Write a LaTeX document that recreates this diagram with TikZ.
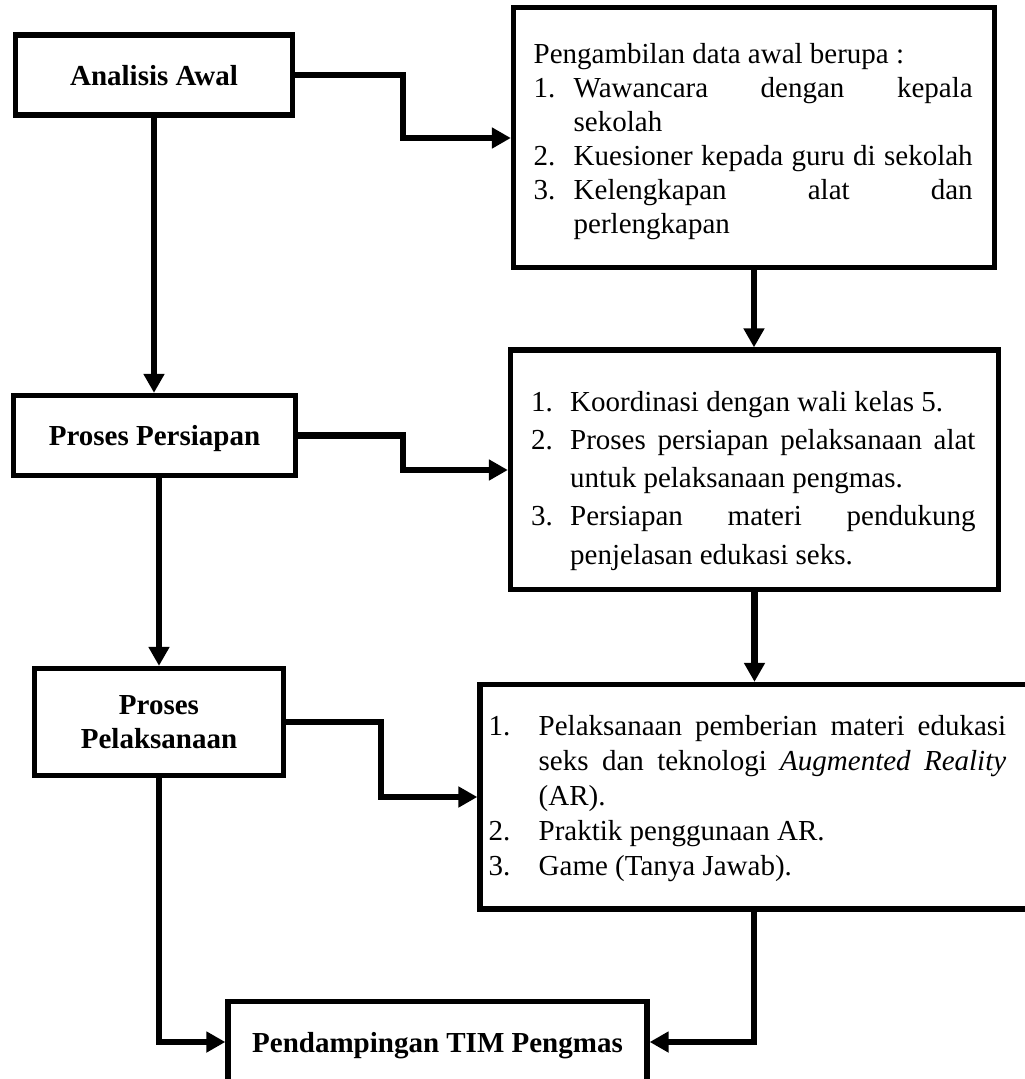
\documentclass[tikz,border=0pt]{standalone}
\usepackage{fontspec}
\setmainfont{Liberation Serif}
\usetikzlibrary{arrows.meta}
\begin{document}
\begin{tikzpicture}[x=1pt,y=-1pt,
  box/.style={draw=black, line width=5.3pt, rectangle, inner sep=0pt, fill=white},
  lbl/.style={font=\bfseries\fontsize{29}{33.3}\selectfont, text height=20pt, text depth=0pt},
  txt/.style={inner sep=0pt, anchor=base west, align=justify},
  conn/.style={line width=6.3pt, -{Triangle[length=19pt,width=20pt]}},
]
\useasboundingbox (0,0) rectangle (1025,1079);
\clip (0,0) rectangle (1025,1079);

% boxes
\node[box, lbl, minimum width=277pt, minimum height=80pt] (A) at (154,75) {Analisis Awal};
\node[box, lbl, minimum width=282pt, minimum height=80pt] (P) at (154.5,435.5) {Proses Persiapan};
\node[box, align=center, font=\bfseries\fontsize{29}{33.3}\selectfont,
      minimum width=249pt, minimum height=107pt] (L) at (159,722) {Proses\\Pelaksanaan};
\node[box, lbl, minimum width=419pt, minimum height=81pt] (E) at (437.5,1042) {Pendampingan TIM Pengmas};
\node[box, minimum width=481pt, minimum height=260pt] (B1) at (754,137.5) {};
\node[box, minimum width=488pt, minimum height=239.5pt] (B2) at (754.5,469.75) {};
\node[box, minimum width=560pt, minimum height=224.5pt] (B3) at (760,796.75) {};

% box texts
\node[txt, text width=439pt, font=\fontsize{29}{34}\selectfont] (t1) at (533.5,63.6) {%
\spaceskip=0pt\xspaceskip=0pt
Pengambilan data awal berupa :\par
\makebox[40pt][l]{1.}\makebox[399pt][s]{Wawancara dengan kepala}\par
\hspace*{40pt}sekolah\par
\makebox[40pt][l]{2.}\makebox[399pt][s]{Kuesioner kepada guru di sekolah}\par
\makebox[40pt][l]{3.}\makebox[399pt][s]{Kelengkapan alat dan}\par
\hspace*{40pt}perlengkapan};

\node[txt, text width=444.3pt, font=\fontsize{29}{38.2}\selectfont] (t2) at (531,411.2) {%
\spaceskip=0pt\xspaceskip=0pt
\makebox[39pt][l]{1.}Koordinasi dengan wali kelas 5.\par
\makebox[39pt][l]{2.}\makebox[405.3pt][s]{Proses persiapan pelaksanaan alat}\par
\hspace*{39pt}untuk pelaksanaan pengmas.\par
\makebox[39pt][l]{3.}\makebox[405.3pt][s]{Persiapan materi pendukung}\par
\hspace*{39pt}penjelasan edukasi seks.};

\node[txt, text width=517.5pt, font=\fontsize{29}{35}\selectfont] (t3) at (488.5,735) {%
\spaceskip=0pt\xspaceskip=0pt
\makebox[50pt][l]{1.}\makebox[467.5pt][s]{Pelaksanaan pemberian materi edukasi}\par
\hspace*{50pt}\makebox[467.5pt][s]{seks dan teknologi \textit{Augmented Reality}}\par
\hspace*{50pt}(AR).\par
\makebox[50pt][l]{2.}Praktik penggunaan AR.\par
\makebox[50pt][l]{3.}Game (Tanya Jawab).};

% bend points
\coordinate (k1) at (403,138);
\coordinate (k3) at (403,470);
\coordinate (k7) at (381,797);
\coordinate (k9) at (754,0);

% connectors
\draw[conn] (A.east) -| (k1) -- (k1 -| B1.west);
\draw[conn] (A.south) -- (A.south |- P.north);
\draw[conn] (P.east) -| (k3) -- (k3 -| B2.west);
\draw[conn] (B1.south) -- (B1.south |- B2.north);
\draw[conn] (L.north |- P.south) -- (L.north);
\draw[conn] (B2.south) -- (B2.south |- B3.north);
\draw[conn] (L.east) -| (k7) -- (k7 -| B3.west);
\draw[conn] (L.south) |- (E.west);
\draw[conn] (B3.south -| k9) |- (E.east);
\end{tikzpicture}
\end{document}
